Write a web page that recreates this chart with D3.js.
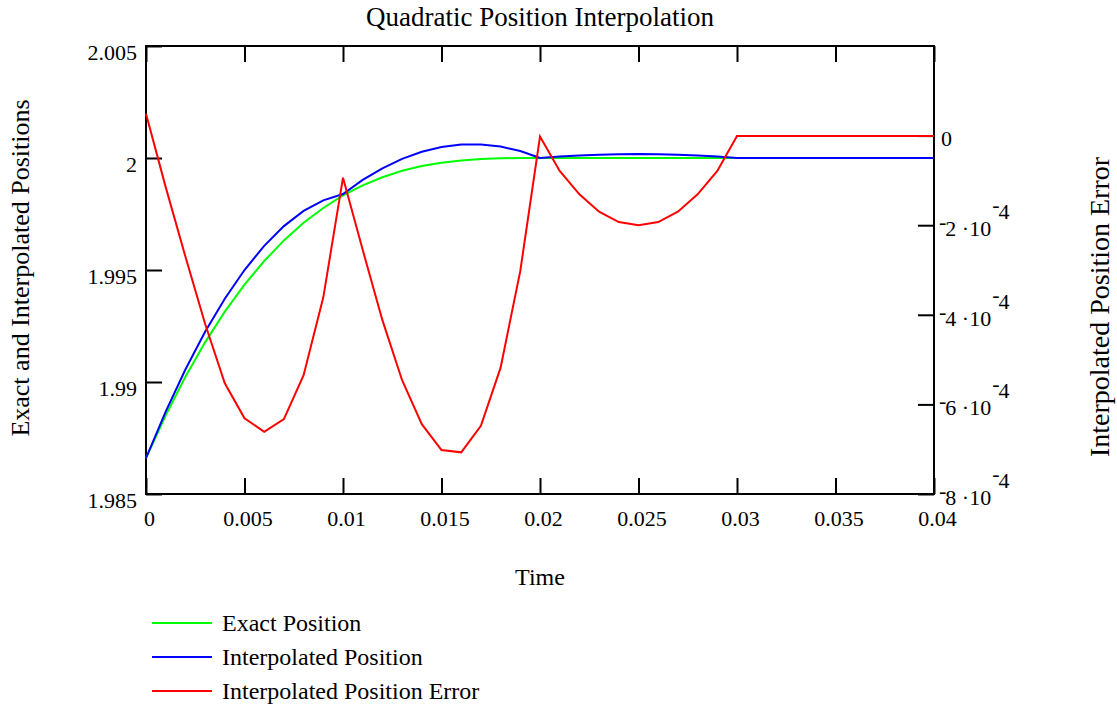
<!DOCTYPE html>
<html>
<head>
<meta charset="utf-8">
<script src="https://cdn.jsdelivr.net/npm/d3@7/dist/d3.min.js"></script>
<style>
  html, body { margin: 0; padding: 0; background: #fff; }
  svg { display: block; font-family: "Liberation Serif", "Times New Roman", serif; }
</style>
</head>
<body>
<svg id="chart" width="1117" height="708"></svg>
<script>
// Sample times (s)
const time = [0, 0.001, 0.002, 0.003, 0.004, 0.005, 0.006, 0.007, 0.008, 0.009,
  0.010, 0.011, 0.012, 0.013, 0.014, 0.015, 0.016, 0.017, 0.018, 0.019,
  0.020, 0.021, 0.022, 0.023, 0.024, 0.025, 0.026, 0.027, 0.028, 0.029,
  0.030, 0.031, 0.032, 0.033, 0.034, 0.035, 0.036, 0.037, 0.038, 0.039, 0.040];

// Exact position
const exactPosition = [1.98660, 1.98851, 1.99023, 1.99177, 1.99314, 1.99435, 1.99540, 1.99632, 1.99711, 1.99777,
  1.99833, 1.99878, 1.99914, 1.99943, 1.99964, 1.99979, 1.99989, 1.99995, 1.99999, 2.00000,
  2.00000, 2.00000, 2.00000, 2.00000, 2.00000, 2.00000, 2.00000, 2.00000, 2.00000, 2.00000,
  2.00000, 2.00000, 2.00000, 2.00000, 2.00000, 2.00000, 2.00000, 2.00000, 2.00000, 2.00000, 2.00000];

// Interpolated position
const interpolatedPosition = [1.98660, 1.98868, 1.99056, 1.99224, 1.99372, 1.99500, 1.99608, 1.99696, 1.99764, 1.99811,
  1.99839, 1.99902, 1.99954, 1.99996, 2.00028, 2.00049, 2.00060, 2.00060, 2.00051, 2.00031,
  2.00000, 2.000065, 2.000115, 2.00015, 2.00017, 2.00018, 2.00017, 2.00015, 2.000115, 2.000065,
  2.00000, 2.00000, 2.00000, 2.00000, 2.00000, 2.00000, 2.00000, 2.00000, 2.00000, 2.00000, 2.00000];

// Interpolated position error
const positionError = [0.49e-4, -1.15e-4, -2.70e-4, -4.20e-4, -5.53e-4, -6.31e-4, -6.61e-4, -6.33e-4, -5.35e-4, -3.61e-4,
  -0.94e-4, -2.55e-4, -4.12e-4, -5.46e-4, -6.44e-4, -7.02e-4, -7.07e-4, -6.48e-4, -5.18e-4, -3.02e-4,
  -0.02e-4, -0.79e-4, -1.31e-4, -1.70e-4, -1.93e-4, -2.00e-4, -1.93e-4, -1.70e-4, -1.31e-4, -0.79e-4,
  -0.01e-4, -0.01e-4, -0.01e-4, -0.01e-4, -0.01e-4, -0.01e-4, -0.01e-4, -0.01e-4, -0.01e-4, -0.01e-4, -0.01e-4];

// Tick values and labels
const timeTicks = [0, 0.005, 0.01, 0.015, 0.02, 0.025, 0.03, 0.035, 0.04];
const timeTickLabels = ["0", "0.005", "0.01", "0.015", "0.02", "0.025", "0.03", "0.035", "0.04"];
const positionTicks = [1.985, 1.99, 1.995, 2, 2.005];
const positionTickLabels = ["1.985", "1.99", "1.995", "2", "2.005"];
const errorTicks = [-8e-4, -6e-4, -4e-4, -2e-4, 0];
const errorTickMantissas = ["8", "6", "4", "2", "0"];
const errorTickExponent = "4";

const seriesNames = ["Exact Position", "Interpolated Position", "Interpolated Position Error"];
const seriesColors = ["#00ff00", "#0000ff", "#ff0000"];

const svg = d3.select("#chart");
const plotLeft = 146, plotRight = 934, plotTop = 46, plotBottom = 494;
const tickFont = 22, titleFont = 27, axisTitleFont = 26, legendFont = 24;

const x = d3.scaleLinear().domain([0, 0.04]).range([plotLeft, plotRight]);
const yPos = d3.scaleLinear().domain([1.985, 2.005]).range([plotBottom, plotTop]);
const yErr = d3.scaleLinear().domain([-8e-4, 2e-4]).range([plotBottom, plotTop]);

const tickLen = 16;

// Frame
svg.append("rect")
  .attr("x", plotLeft).attr("y", plotTop)
  .attr("width", plotRight - plotLeft).attr("height", plotBottom - plotTop)
  .attr("fill", "none").attr("stroke", "#000").attr("stroke-width", 2);

function styleAxis(g) {
  g.select(".domain").remove();
  g.selectAll(".tick line").attr("stroke", "#000").attr("stroke-width", 2);
  g.selectAll(".tick text").attr("fill", "#000").style("font-size", tickFont + "px")
    .style("font-family", "'Liberation Serif', 'Times New Roman', serif");
}

// Bottom time axis (ticks pointing up into the plot)
svg.append("g")
  .attr("transform", `translate(0,${plotBottom})`)
  .call(d3.axisBottom(x).tickValues(timeTicks)
    .tickFormat((d, i) => timeTickLabels[i])
    .tickSizeInner(-tickLen).tickSizeOuter(0).tickPadding(16))
  .call(styleAxis)
  .call(g => g.selectAll(".tick text").attr("dx", 3));

// Top mirrored ticks
svg.append("g")
  .attr("transform", `translate(0,${plotTop})`)
  .call(d3.axisTop(x).tickValues(timeTicks).tickFormat("")
    .tickSizeInner(-tickLen).tickSizeOuter(0))
  .call(styleAxis);

// Left position axis
svg.append("g")
  .attr("transform", `translate(${plotLeft},0)`)
  .call(d3.axisLeft(yPos).tickValues(positionTicks)
    .tickFormat((d, i) => positionTickLabels[i])
    .tickSizeInner(-tickLen).tickSizeOuter(0).tickPadding(9))
  .call(styleAxis)
  .call(g => g.selectAll(".tick text").attr("dy", "0.6em"));

// Right error axis
svg.append("g")
  .attr("transform", `translate(${plotRight},0)`)
  .call(d3.axisRight(yErr).tickValues(errorTicks).tickFormat("")
    .tickSizeInner(-tickLen).tickSizeOuter(0))
  .call(styleAxis);

// Right labels in "−2 ·10⁻⁴" form, minus signs raised
errorTicks.forEach((v, i) => {
  const base = yErr(v) + 11;
  const t = svg.append("text")
    .attr("x", plotRight + 5)
    .attr("y", base)
    .style("font-size", tickFont + "px")
    .attr("fill", "#000");
  if (v === 0) {
    t.attr("x", plotRight + 7).attr("y", yErr(v) + 10).text(errorTickMantissas[i]);
  } else {
    t.append("tspan").attr("dy", -7).text("-");
    t.append("tspan").attr("dy", 7).attr("dx", -1).text(errorTickMantissas[i] + " ·10");
    t.append("tspan").attr("dy", -24).attr("dx", 1).text("-");
    t.append("tspan").attr("dy", 7).attr("dx", -1).text(errorTickExponent);
  }
});

// Curves
const posLine = d3.line().x((d, i) => x(time[i])).y(d => yPos(d));
const errLine = d3.line().x((d, i) => x(time[i])).y(d => yErr(d));

const plot = svg.append("g");
plot.append("path").datum(exactPosition)
  .attr("d", posLine).attr("fill", "none")
  .attr("stroke", seriesColors[0]).attr("stroke-width", 2);
plot.append("path").datum(interpolatedPosition)
  .attr("d", posLine).attr("fill", "none")
  .attr("stroke", seriesColors[1]).attr("stroke-width", 2);
plot.append("path").datum(positionError)
  .attr("d", errLine).attr("fill", "none")
  .attr("stroke", seriesColors[2]).attr("stroke-width", 2);

// Titles
svg.append("text")
  .attr("x", (plotLeft + plotRight) / 2).attr("y", 26)
  .attr("text-anchor", "middle").style("font-size", titleFont + "px")
  .text("Quadratic Position Interpolation");

svg.append("text")
  .attr("x", (plotLeft + plotRight) / 2).attr("y", 585)
  .attr("text-anchor", "middle").style("font-size", legendFont + "px")
  .text("Time");

svg.append("text")
  .attr("transform", `translate(29,268) rotate(-90)`)
  .attr("text-anchor", "middle").style("font-size", axisTitleFont + "px")
  .text("Exact and Interpolated Positions");

svg.append("text")
  .attr("transform", `translate(1109,307) rotate(-90)`)
  .attr("text-anchor", "middle").style("font-size", "28px")
  .text("Interpolated Position Error");

// Legend
const legend = svg.append("g");
seriesNames.forEach((name, i) => {
  const ly = 623 + i * 34;
  legend.append("line")
    .attr("x1", 152).attr("x2", 212).attr("y1", ly).attr("y2", ly)
    .attr("stroke", seriesColors[i]).attr("stroke-width", 2);
  legend.append("text")
    .attr("x", 222).attr("y", ly + 8)
    .style("font-size", legendFont + "px")
    .text(name);
});
</script>
</body>
</html>
